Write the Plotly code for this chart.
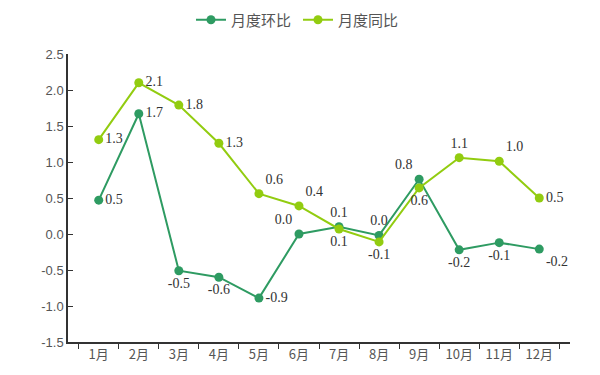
import plotly.graph_objects as go

months = ["1月", "2月", "3月", "4月", "5月", "6月", "7月", "8月", "9月", "10月", "11月", "12月"]
mom = [0.47, 1.67, -0.51, -0.60, -0.89, 0.00, 0.10, -0.02, 0.76, -0.22, -0.12, -0.21]
yoy = [1.31, 2.10, 1.79, 1.26, 0.56, 0.39, 0.07, -0.11, 0.64, 1.06, 1.01, 0.50]
mom_labels = ["0.5", "1.7", "-0.5", "-0.6", "-0.9", "0.0", "0.1", "0.0", "0.8", "-0.2", "-0.1", "-0.2"]
yoy_labels = ["1.3", "2.1", "1.8", "1.3", "0.6", "0.4", "0.1", "-0.1", "0.6", "1.1", "1.0", "0.5"]
yticks = [-1.5, -1.0, -0.5, 0.0, 0.5, 1.0, 1.5, 2.0, 2.5]

mom_pos = ["middle right", "middle right", "bottom center", "bottom center", "middle right",
           "top left", "top center", "top center", "top left", "bottom center",
           "bottom center", "bottom right"]
yoy_pos = ["middle right", "middle right", "middle right", "middle right", "top right",
           "top right", "bottom center", "bottom center", "bottom center", "top center",
           "top right", "middle right"]

c_mom = "#2E9B62"
c_yoy = "#92CC10"
font_cjk = "Noto Sans CJK SC, Liberation Sans, sans-serif"
label_font = dict(family="Liberation Serif, serif", size=14, color="#333333")

fig = go.Figure()
fig.add_trace(go.Scatter(
    x=months, y=mom, name="月度环比", mode="lines+markers+text",
    line=dict(color=c_mom, width=2), marker=dict(color=c_mom, size=9),
    text=mom_labels, textposition=mom_pos, textfont=label_font,
))
fig.add_trace(go.Scatter(
    x=months, y=yoy, name="月度同比", mode="lines+markers+text",
    line=dict(color=c_yoy, width=2), marker=dict(color=c_yoy, size=9),
    text=yoy_labels, textposition=yoy_pos, textfont=label_font,
))

fig.update_layout(
    width=600, height=375,
    margin=dict(l=60, r=38, t=46, b=41),
    paper_bgcolor="white", plot_bgcolor="white",
    font=dict(family=font_cjk, size=12, color="#555555"),
    legend=dict(orientation="h", x=0.245, xanchor="left", xref="paper",
                y=0.968, yanchor="middle", yref="container",
                font=dict(family=font_cjk, size=15, color="#555555"), itemwidth=30,
                entrywidth=62, entrywidthmode="pixels", tracegroupgap=0),
    xaxis=dict(
        type="category", showgrid=False, showline=True, linecolor="#333333", linewidth=1.5,
        ticks="outside", tickson="boundaries", ticklen=5, tickcolor="#333333",
        tickfont=dict(family=font_cjk, size=13, color="#555555"), automargin=False,
    ),
    yaxis=dict(
        range=[-1.5, 2.5], tickvals=yticks, ticktext=[f"{v:.1f}" for v in yticks],
        showgrid=False, zeroline=False, showline=True, linecolor="#333333", linewidth=1.5,
        ticks="inside", ticklen=5, tickcolor="#333333", automargin=False,
        tickfont=dict(family="Liberation Sans, sans-serif", size=13, color="#555555"),
    ),
)

fig.write_html("out.html")
